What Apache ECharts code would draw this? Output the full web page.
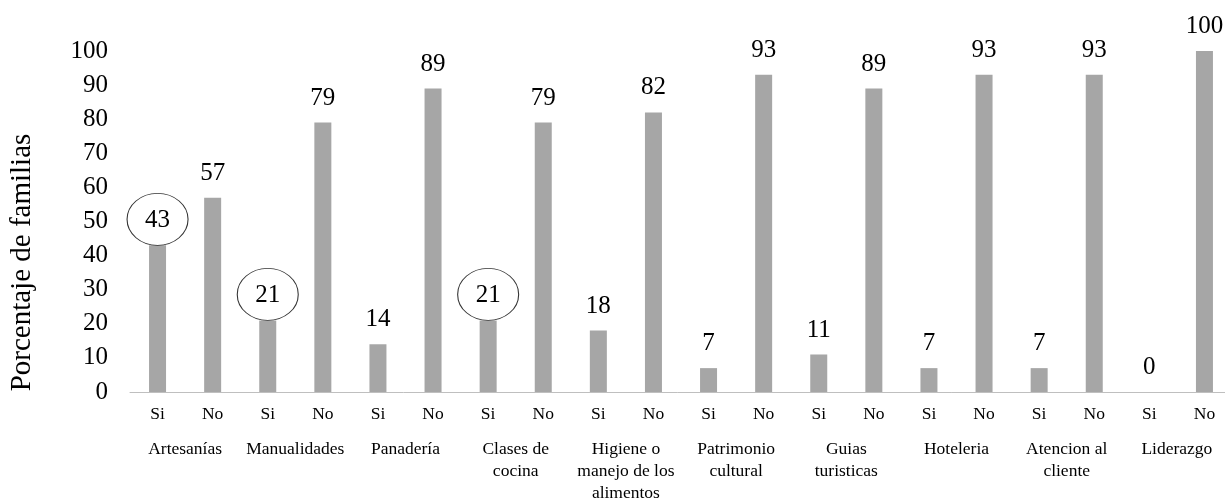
<!DOCTYPE html>
<html>
<head>
<meta charset="utf-8">
<script src="https://cdn.jsdelivr.net/npm/echarts@6/dist/echarts.min.js"></script>
<style>html,body{margin:0;padding:0;background:#fff;}#c{width:1225px;height:498px;}</style>
</head>
<body>
<div id="c"></div>
<script>
const groups = ['Artesanías','Manualidades','Panadería','Clases de\ncocina','Higiene o\nmanejo de los\nalimentos','Patrimonio\ncultural','Guias\nturisticas','Hoteleria','Atencion al\ncliente','Liderazgo'];
const answers = ['Si','No'];
const siValues = [43,21,14,21,18,7,11,7,7,0];
const noValues = [57,79,89,79,82,93,89,93,93,100];
const circledGroups = [0,1,3];
const yTicks = [0,10,20,30,40,50,60,70,80,90,100];

const cats = [], vals = [];
groups.forEach((g,i)=>{ cats.push(answers[0]); vals.push(siValues[i]); cats.push(answers[1]); vals.push(noValues[i]); });
const circleData = circledGroups.map(i => [i*2, siValues[i]]);

const font = '"Liberation Serif","Times New Roman",serif';
const chart = echarts.init(document.getElementById('c'));
chart.setOption({
  animation:false,
  grid:{left:130, top:51, width:1102, height:341, containLabel:false, outerBoundsMode:'none'},
  xAxis:[{
    type:'category', data:cats,
    axisLine:{lineStyle:{color:'#bfbfbf', width:1}},
    axisTick:{show:false},
    axisLabel:{fontFamily:font, fontSize:17.5, color:'#000', margin:13, interval:0}
  },{
    type:'category', data:groups, position:'bottom', offset:46,
    axisLine:{show:false}, axisTick:{show:false},
    axisLabel:{fontFamily:font, fontSize:17.5, color:'#000', interval:0, lineHeight:22, verticalAlign:'top', margin:0}
  }],
  yAxis:{
    type:'value', min:0, max:100, interval:10,
    name:'Porcentaje de familias', nameLocation:'middle', nameGap:93,
    nameTextStyle:{fontFamily:font, fontSize:29, color:'#000', padding:[0,82,0,0]},
    axisLine:{show:false}, axisTick:{show:false}, splitLine:{show:false},
    axisLabel:{fontFamily:font, fontSize:25, color:'#000', margin:22,
      formatter:v=> yTicks.includes(v) ? String(v) : ''}
  },
  series:[{
    type:'bar', data:vals, xAxisIndex:0, barWidth:17,
    itemStyle:{color:'#a6a6a6'},
    label:{show:true, position:'top', distance:12, fontFamily:font, fontSize:25, color:'#000'},
    z:2
  },{
    type:'scatter', data:circleData, xAxisIndex:0,
    symbol:'circle', symbolSize:[61,52], symbolOffset:[0,-26],
    itemStyle:{color:'rgba(0,0,0,0)', borderColor:'#000', borderWidth:1},
    silent:true, z:3
  }]
});
</script>
</body>
</html>
